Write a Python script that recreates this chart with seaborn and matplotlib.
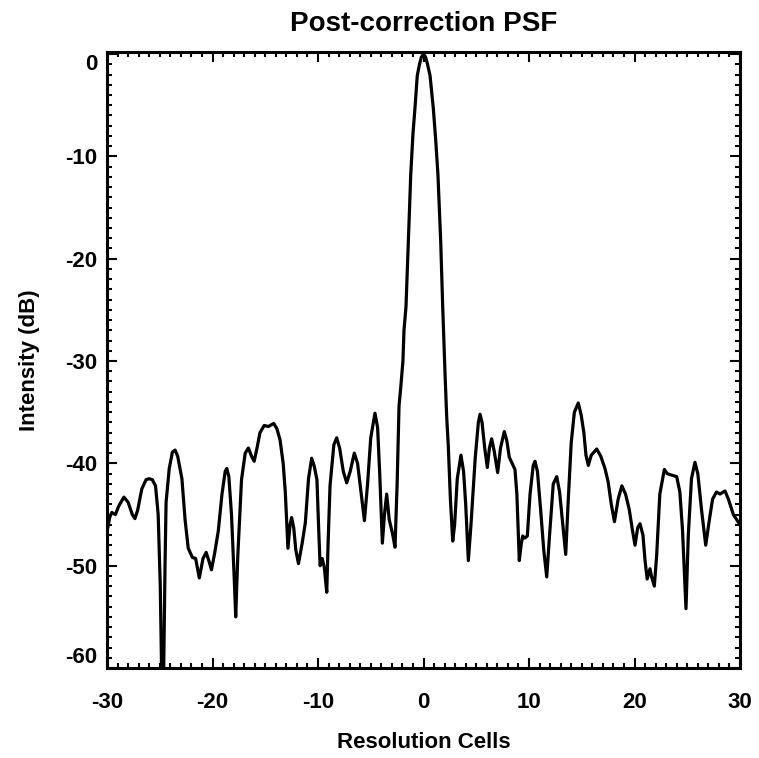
import matplotlib
matplotlib.use("Agg")
import matplotlib.pyplot as plt
from matplotlib.ticker import MultipleLocator
import seaborn as sns
import pandas as pd

# Resolution cell positions and intensity (dB)
cells = [
    -30.0, -29.75, -29.55, -29.2, -28.9, -28.4, -28.0, -27.6, -27.35, -27.1,
    -26.7, -26.3, -26.0, -25.7, -25.4, -25.15, -24.95, -24.8, -24.65, -24.5,
    -24.4, -24.1, -23.8, -23.55, -23.3, -22.9, -22.6, -22.3, -21.9, -21.6,
    -21.25, -20.9, -20.6, -20.35, -20.1, -19.8, -19.45, -19.1, -18.8, -18.65,
    -18.45, -18.2, -17.95, -17.8, -17.6, -17.25, -16.9, -16.6, -16.3, -16.05,
    -15.8, -15.5, -15.1, -14.7, -14.2, -13.9, -13.6, -13.3, -13.1, -12.85,
    -12.65, -12.5, -12.3, -12.1, -11.85, -11.5, -11.2, -10.9, -10.6, -10.35,
    -10.1, -9.95, -9.8, -9.6, -9.4, -9.17, -9.05, -8.86, -8.5, -8.23,
    -7.95, -7.6, -7.28, -6.95, -6.56, -6.25, -5.9, -5.6, -5.3, -5.0,
    -4.6, -4.35, -4.15, -3.9, -3.7, -3.49, -3.25, -2.95, -2.7, -2.5,
    -2.32, -2.15, -1.95, -1.85, -1.66, -1.44, -1.21, -1.0, -0.81, -0.59,
    -0.37, -0.2, 0.0, 0.2, 0.37, 0.62, 0.93, 1.15, 1.37, 1.63,
    1.82, 2.04, 2.2, 2.35, 2.55, 2.77, 2.95, 3.2, 3.55, 3.8,
    4.0, 4.25, 4.5, 4.9, 5.2, 5.36, 5.55, 5.8, 6.05, 6.25,
    6.46, 6.7, 7.03, 7.3, 7.66, 7.9, 8.13, 8.4, 8.67, 8.85,
    9.08, 9.25, 9.4, 9.6, 9.84, 10.1, 10.4, 10.57, 10.8, 11.1,
    11.4, 11.68, 11.95, 12.3, 12.63, 12.9, 13.2, 13.48, 13.7, 14.0,
    14.3, 14.67, 14.95, 15.2, 15.4, 15.62, 15.9, 16.42, 16.8, 17.2,
    17.5, 17.8, 18.1, 18.45, 18.8, 19.15, 19.5, 19.8, 20.05, 20.3,
    20.52, 20.8, 21.0, 21.2, 21.47, 21.6, 21.88, 22.1, 22.4, 22.83,
    23.1, 23.36, 24.0, 24.3, 24.55, 24.88, 25.1, 25.4, 25.73, 26.0,
    26.35, 26.75, 27.1, 27.4, 27.77, 28.1, 28.58, 28.9, 29.37, 30.0,
]
intensity_db = [
    -46.7, -45.3, -44.8, -45.0, -44.2, -43.3, -43.8, -45.0, -45.4, -44.6,
    -42.5, -41.6, -41.5, -41.6, -42.2, -45.0, -52.0, -62.0, -62.0, -50.0,
    -43.8, -40.5, -38.9, -38.7, -39.3, -41.5, -45.5, -48.3, -49.2, -49.3,
    -51.2, -49.3, -48.7, -49.5, -50.4, -48.8, -46.6, -43.0, -40.8, -40.5,
    -41.3, -45.0, -51.0, -55.0, -49.0, -41.6, -39.0, -38.5, -39.3, -39.8,
    -38.6, -37.0, -36.3, -36.4, -36.1, -36.6, -37.7, -40.0, -42.8, -48.3,
    -46.0, -45.3, -46.3, -48.5, -49.8, -47.8, -45.8, -41.5, -39.5, -40.3,
    -41.6, -46.0, -50.0, -49.3, -50.2, -52.6, -48.0, -42.2, -38.2, -37.5,
    -38.5, -40.8, -41.9, -40.8, -39.0, -40.0, -43.0, -45.6, -42.0, -37.5,
    -35.1, -36.5, -41.0, -47.8, -45.0, -43.0, -45.5, -46.8, -48.2, -42.0,
    -34.4, -32.5, -30.0, -27.0, -24.7, -18.3, -11.8, -7.8, -5.3, -2.1,
    -0.95, -0.3, 0.0, -0.3, -0.95, -2.1, -5.3, -8.3, -11.8, -18.3,
    -24.7, -31.2, -35.5, -38.3, -43.5, -47.6, -46.0, -41.5, -39.2, -40.8,
    -44.0, -49.5, -46.0, -39.5, -36.0, -35.2, -36.0, -38.5, -40.4, -38.5,
    -37.6, -38.8, -40.9, -38.5, -36.9, -37.8, -39.4, -40.0, -40.6, -43.0,
    -49.5, -48.0, -47.1, -47.3, -47.1, -43.0, -40.2, -39.8, -40.8, -44.5,
    -48.5, -51.1, -47.0, -42.0, -41.3, -42.8, -46.0, -48.9, -44.0, -38.0,
    -35.0, -34.1, -35.3, -37.0, -39.2, -40.2, -39.2, -38.6, -39.3, -40.5,
    -41.8, -44.0, -45.7, -43.5, -42.2, -43.0, -44.5, -46.5, -48.0, -46.3,
    -45.9, -47.0, -49.5, -51.3, -50.3, -51.0, -52.0, -49.0, -43.0, -40.6,
    -41.0, -41.1, -41.3, -42.8, -46.5, -54.2, -47.0, -41.5, -39.9, -41.0,
    -44.5, -48.0, -45.5, -43.5, -42.8, -43.0, -42.7, -43.5, -45.0, -46.0,
]

x_ticks = [-30, -20, -10, 0, 10, 20, 30]
y_ticks = [-60, -50, -40, -30, -20, -10, 0]
title_text = "Post-correction PSF"
x_label = "Resolution Cells"
y_label = "Intensity (dB)"

df = pd.DataFrame({"cell": cells, "db": intensity_db})

sns.set_theme(style="ticks")
plt.rcParams["font.family"] = ["Liberation Sans", "DejaVu Sans"]
plt.rcParams.update({
    "text.color": "black",
    "axes.labelcolor": "black",
    "axes.edgecolor": "black",
    "xtick.color": "black",
    "ytick.color": "black",
    "xtick.labelcolor": "black",
    "ytick.labelcolor": "black",
})

fig = plt.figure(figsize=(7.59, 7.58), dpi=100)
ax = fig.add_axes([107 / 759, 1 - 668 / 758, (740 - 107) / 759, (668 - 52) / 758])

line_ax = sns.lineplot(data=df, x="cell", y="db", ax=ax, color="black", linewidth=2.3,
                       estimator=None, sort=False)
for ln in line_ax.lines:
    ln.set_solid_joinstyle("round")

ax.set_xlim(-30, 30)
ax.set_ylim(-60, 0.2)
ax.set_xticks(x_ticks)
ax.set_yticks(y_ticks)
ax.set_xticklabels([str(t) for t in x_ticks])
ax.set_yticklabels([str(t) for t in y_ticks])
ax.xaxis.set_minor_locator(MultipleLocator(1))
ax.yaxis.set_minor_locator(MultipleLocator(1))

ax.tick_params(which="both", direction="in", top=True, right=True,
               color="black", labelcolor="black")
ax.tick_params(which="major", length=7.5, width=1.5, labelsize=16, pad=7)
ax.tick_params(which="minor", length=3.8, width=1.5)
ax.tick_params(axis="x", which="major", pad=17)
for s in ax.spines.values():
    s.set_linewidth(2.2)
    s.set_color("black")

for lab in ax.get_xticklabels() + ax.get_yticklabels():
    lab.set_fontweight("bold")
    lab.set_color("black")
ylabs = ax.get_yticklabels()
ylabs[0].set_va("bottom")
ylabs[-1].set_va("top")

ax.set_xlabel(x_label, fontsize=16, fontweight="bold", labelpad=14, color="black")
ax.set_ylabel(y_label, fontsize=16, fontweight="bold", labelpad=18, color="black")
ax.set_title(title_text, fontsize=20, fontweight="bold", pad=15, color="black")

fig.savefig("out.png", dpi=100)
